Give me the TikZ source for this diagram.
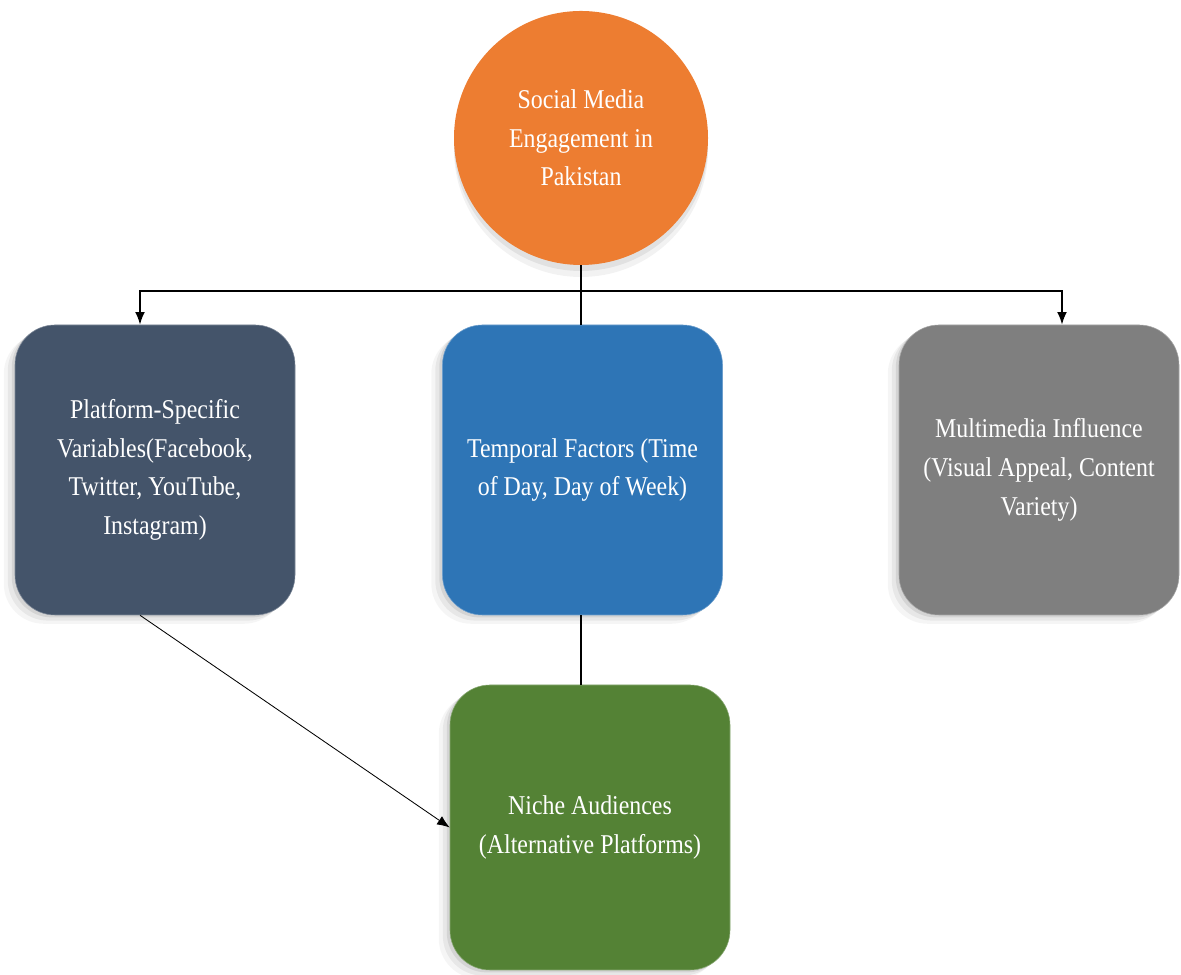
\documentclass[tikz,border=0pt]{standalone}
\usepackage{fontspec}
\setmainfont[FakeStretch=0.88]{Liberation Serif}
\usepackage{tikz}
\usetikzlibrary{calc}
\usetikzlibrary{shadows}
\usetikzlibrary{arrows.meta}

\definecolor{mediaorange}{HTML}{ED7D31}
\definecolor{slateblue}{HTML}{44546A}
\definecolor{midblue}{HTML}{2E75B6}
\definecolor{midgray}{HTML}{7F7F7F}
\definecolor{leafgreen}{HTML}{548235}

\tikzset{
  softshadow/.style={
    drop shadow={shadow xshift=-0.28cm, shadow yshift=-0.22cm, opacity=0.08},
    drop shadow={shadow xshift=-0.18cm, shadow yshift=-0.14cm, opacity=0.12},
    drop shadow={shadow xshift=-0.08cm, shadow yshift=-0.06cm, opacity=0.18}},
  factorbox/.style={rounded corners=1cm, minimum width=7cm, minimum height=7.25cm,
    text=white, align=center, font=\fontsize{19.3}{27.5}\selectfont, softshadow},
  link/.style={line width=1.2pt, -{Latex[length=9pt,width=7pt]}}
}

\begin{document}
\begin{tikzpicture}
          \useasboundingbox (0,0) rectangle (29.525,24.375);
          \node [circle, fill=mediaorange, minimum size=6.35cm, text=white, align=center,
            font=\fontsize{19.3}{27.5}\selectfont,
            drop shadow={shadow xshift=0cm, shadow yshift=-0.3cm, opacity=0.1},
            drop shadow={shadow xshift=0cm, shadow yshift=-0.15cm, opacity=0.15}]
            (media) at (14.525,20.925) {Social Media\\Engagement in\\Pakistan};
          \node [factorbox, fill=slateblue, draw=slateblue!70!white]
            (platform) at (3.875,12.625) {Platform-Specific\\Variables(Facebook,\\Twitter, YouTube,\\Instagram)};
          \node [factorbox, fill=midblue, draw=midblue!70!white]
            (temporal) at (14.5625,12.625) {Temporal Factors (Time\\of Day, Day of Week)};
          \node [factorbox, fill=midgray, draw=midgray!70!white]
            (multimedia) at (25.975,12.625) {Multimedia Influence\\(Visual Appeal, Content\\Variety)};
          \node [factorbox, fill=leafgreen, draw=leafgreen!70!white, minimum height=7.125cm]
            (niche) at (14.75,3.6875) {Niche Audiences\\(Alternative Platforms)};
          \coordinate (bus) at (14.525,17.1);
          \draw [line width=0.8pt] (media.south) -- (media.south |- temporal.north);
          \draw [link] (bus) -| ([xshift=-0.375cm]platform.north);
          \draw [link] (bus) -| ([xshift=0.575cm]multimedia.north);
          \draw [line width=0.8pt] (temporal.south -| media.south) -- (niche.north -| media.south);
          \draw [line width=0.6pt, -{Latex[length=9pt,width=7pt]}] ([xshift=-0.375cm]platform.south) -- (niche.west);
        \end{tikzpicture}
\end{document}
